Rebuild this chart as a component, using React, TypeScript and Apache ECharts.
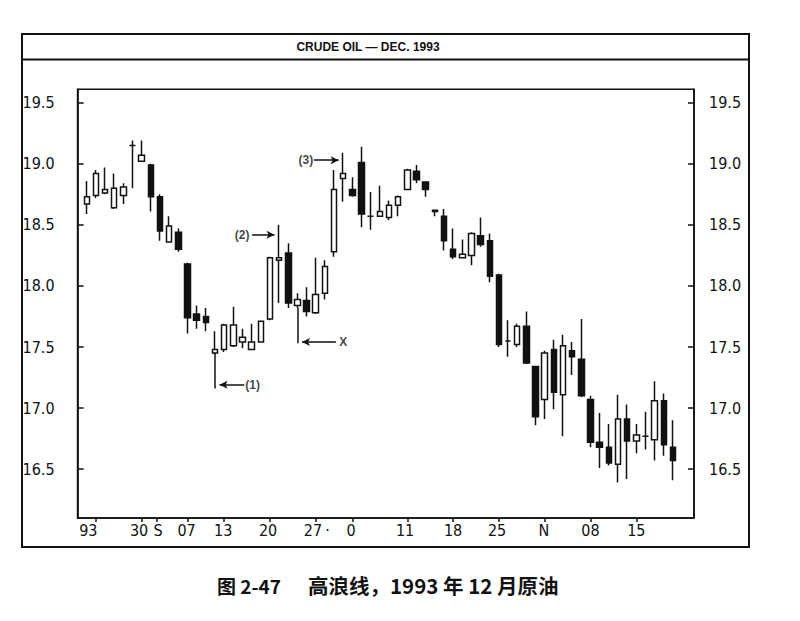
import React, { useEffect, useRef } from "react";
import * as echarts from "echarts";

// Daily OHLC, Dec. 1993 crude oil
const opens = [18.67, 18.74, 18.76, 18.64, 18.74, 19.15, 19.02, 18.99, 18.73, 18.36, 18.44, 18.18, 17.77, 17.75, 17.45, 17.48, 17.51, 17.54, 17.48, 17.54, 17.73, 18.21, 18.27, 17.84, 17.88, 17.78, 17.94, 18.28, 18.88, 18.79, 19.01, 18.57, 18.57, 18.56, 18.66, 18.79, 18.94, 18.85, 18.62, 18.57, 18.30, 18.23, 18.25, 18.41, 18.37, 18.09, 17.55, 17.52, 17.67, 17.34, 17.07, 17.48, 17.11, 17.47, 17.40, 17.07, 16.72, 16.68, 16.54, 16.91, 16.73, 16.77, 16.74, 17.06, 16.68];
const closes = [18.73, 18.92, 18.79, 18.80, 18.81, 19.15, 19.07, 18.73, 18.45, 18.49, 18.30, 17.74, 17.72, 17.70, 17.48, 17.68, 17.68, 17.58, 17.54, 17.71, 18.23, 18.23, 17.86, 17.89, 17.79, 17.93, 18.16, 18.79, 18.92, 18.74, 18.59, 18.57, 18.61, 18.66, 18.73, 18.95, 18.87, 18.79, 18.61, 18.37, 18.24, 18.26, 18.43, 18.34, 18.08, 17.52, 17.55, 17.67, 17.37, 16.93, 17.45, 17.13, 17.51, 17.42, 17.10, 16.72, 16.68, 16.55, 16.91, 16.73, 16.78, 16.77, 17.06, 16.70, 16.57];
const lows = [18.59, 18.72, 18.75, 18.63, 18.67, 18.80, 19.02, 18.61, 18.37, 18.36, 18.28, 17.61, 17.65, 17.63, 17.44, 17.46, 17.50, 17.49, 17.48, 17.54, 17.72, 17.86, 17.82, 17.82, 17.75, 17.77, 17.89, 18.24, 18.69, 18.73, 18.48, 18.46, 18.57, 18.54, 18.57, 18.79, 18.84, 18.73, 18.57, 18.29, 18.22, 18.23, 18.17, 18.32, 18.03, 17.50, 17.42, 17.50, 17.36, 16.86, 16.91, 16.99, 16.77, 17.27, 17.09, 16.68, 16.51, 16.53, 16.39, 16.42, 16.63, 16.66, 16.57, 16.61, 16.41];
const highs = [18.86, 18.95, 18.97, 18.92, 18.84, 19.19, 19.19, 19.00, 18.75, 18.57, 18.47, 18.19, 17.84, 17.82, 17.63, 17.69, 17.83, 17.65, 17.69, 17.71, 18.24, 18.50, 18.35, 17.94, 17.99, 18.23, 18.21, 18.95, 19.09, 18.89, 19.14, 18.77, 18.82, 18.70, 18.74, 18.96, 18.99, 18.85, 18.62, 18.63, 18.47, 18.38, 18.44, 18.56, 18.43, 18.10, 17.72, 17.69, 17.79, 17.34, 17.47, 17.56, 17.60, 17.54, 17.73, 17.10, 16.96, 16.87, 17.11, 17.03, 16.87, 16.97, 17.22, 17.12, 16.90];

const yTicks = [16.5, 17, 17.5, 18, 18.5, 19, 19.5];
const xTickPos = [2, 7, 8.6, 12, 16, 21, 26, 30, 36, 41, 46, 51, 56, 61];
const xLabelPos = [1.17, 6.71, 8.78, 11.9, 15.9, 20.8, 25.7, 27.3, 29.85, 35.75, 41.0, 45.8, 50.9, 56.0, 61.0];
const xLabelText = ["93", "30", "S", "07", "13", "20", "27", "·", "0", "11", "18", "25", "N", "08", "15"];

// annotation segments: x1, y1, x2, y2, arrow at end (1) or not (0)
const noteLines = [
  [15, 17.45, 15, 17.16, 0],
  [18.2, 17.19, 15.5, 17.19, 1],
  [19.05, 18.42, 21.5, 18.42, 1],
  [25.8, 19.03, 28.5, 19.03, 1],
  [24, 17.82, 24, 17.53, 0],
  [28.2, 17.54, 24.5, 17.54, 1],
];
const noteTexts = ["(1)", "(2)", "(3)", "X"];
const noteX = [19.1, 17.96, 24.93, 29.0];
const noteY = [17.19, 18.42, 19.03, 17.54];

const TITLE = "CRUDE OIL — DEC. 1993";
const CAPTION_A = "图 2-47";
const CAPTION_B = "高浪线，1993 年 12 月原油";

const NARROW = "'Liberation Sans Narrow', 'DejaVu Sans Condensed', 'Liberation Sans', sans-serif";

export default function App() {
  const ref = useRef<HTMLDivElement>(null);
  useEffect(() => {
    if (!ref.current) return;
    const chart = echarts.init(ref.current, undefined, { renderer: "svg" });
    const candles = opens.map((o, i) => [i + 1, o, closes[i], lows[i], highs[i]]);
    const markData = noteLines.map((l) => [
      { coord: [l[0], l[1]], symbol: "none" },
      { coord: [l[2], l[3]], symbol: l[4] ? "arrow" : "none" },
    ]);
    const yAxisBase = (pos: string, margin: number) => ({
      type: "value",
      position: pos,
      min: 16.1,
      max: 19.61,
      axisLine: { show: true, lineStyle: { color: "#111", width: 1.6 } },
      axisTick: { show: true, inside: true, length: 6, customValues: yTicks, lineStyle: { color: "#111", width: 1.5 } },
      axisLabel: {
        customValues: yTicks,
        formatter: (v: number) => v.toFixed(1),
        margin,
        color: "#111",
        fontFamily: NARROW,
        fontSize: 16,
      },
      splitLine: { show: false },
    });
    chart.setOption({
      animation: false,
      backgroundColor: "#fff",
      grid: {
        left: 77.6,
        right: 106,
        top: 89.3,
        bottom: 103,
        show: true,
        borderColor: "#111",
        borderWidth: 1.6,
        containLabel: false,
      },
      xAxis: {
        type: "value",
        min: 0,
        max: 67.3,
        axisLine: { show: true, lineStyle: { color: "#111", width: 1.6 } },
        axisTick: { show: true, length: 4, customValues: xTickPos, lineStyle: { color: "#111", width: 1.5 } },
        axisLabel: {
          customValues: xLabelPos,
          formatter: (v: number) => {
            let best = 0;
            xLabelPos.forEach((p, i) => {
              if (Math.abs(p - v) < Math.abs(xLabelPos[best] - v)) best = i;
            });
            return xLabelText[best];
          },
          margin: 4,
          color: "#111",
          fontFamily: NARROW,
          fontSize: 16,
        },
        splitLine: { show: false },
      },
      yAxis: [yAxisBase("left", 23), yAxisBase("right", 15)],
      series: [
        {
          type: "candlestick",
          xAxisIndex: 0,
          yAxisIndex: 0,
          data: candles,
          barWidth: 6,
          itemStyle: {
            color: "#fff",
            color0: "#111",
            borderColor: "#111",
            borderColor0: "#111",
            borderColorDoji: "#111",
            borderWidth: 1.5,
          },
          markLine: {
            silent: true,
            symbolSize: [6, 8],
            label: { show: false },
            lineStyle: { color: "#111", width: 1.5, type: "solid" },
            data: markData,
          },
        },
        {
          type: "scatter",
          symbol: "circle",
          symbolSize: 1,
          itemStyle: { color: "rgba(0,0,0,0)" },
          data: noteTexts.map((t, i) => ({ name: t, value: [noteX[i], noteY[i]] })),
          label: {
            show: true,
            position: "inside",
            formatter: "{b}",
            color: "#111",
            fontWeight: "bold",
            fontFamily: "'Liberation Sans', Arial, sans-serif",
            fontSize: 12,
          },
        },
      ],
      graphic: [
        {
          type: "rect",
          shape: { x: 22, y: 34, width: 727, height: 513 },
          style: { fill: "none", stroke: "#111", lineWidth: 2 },
          silent: true,
        },
        {
          type: "line",
          shape: { x1: 22, y1: 59.5, x2: 749, y2: 59.5 },
          style: { stroke: "#111", lineWidth: 2 },
          silent: true,
        },
        {
          type: "text",
          x: 368,
          y: 46.5,
          style: {
            text: TITLE,
            fill: "#111",
            font: "bold 12px 'Liberation Sans', Arial, sans-serif",
            textAlign: "center",
            textVerticalAlign: "middle",
          },
          silent: true,
        },
        {
          type: "text",
          x: 217,
          y: 585,
          style: {
            text: CAPTION_A,
            fill: "#111",
            font: "bold 19px 'Noto Sans CJK SC', sans-serif",
            textAlign: "left",
            textVerticalAlign: "middle",
          },
          silent: true,
        },
        {
          type: "text",
          x: 308,
          y: 585,
          style: {
            text: CAPTION_B,
            fill: "#111",
            font: "bold 20.5px 'Noto Sans CJK SC', sans-serif",
            textAlign: "left",
            textVerticalAlign: "middle",
          },
          silent: true,
        },
      ],
    });
    return () => chart.dispose();
  }, []);
  return (
    <div
      ref={ref}
      style={{ position: "absolute", left: 0, top: 0, width: 800, height: 621, background: "#fff" }}
    />
  );
}
